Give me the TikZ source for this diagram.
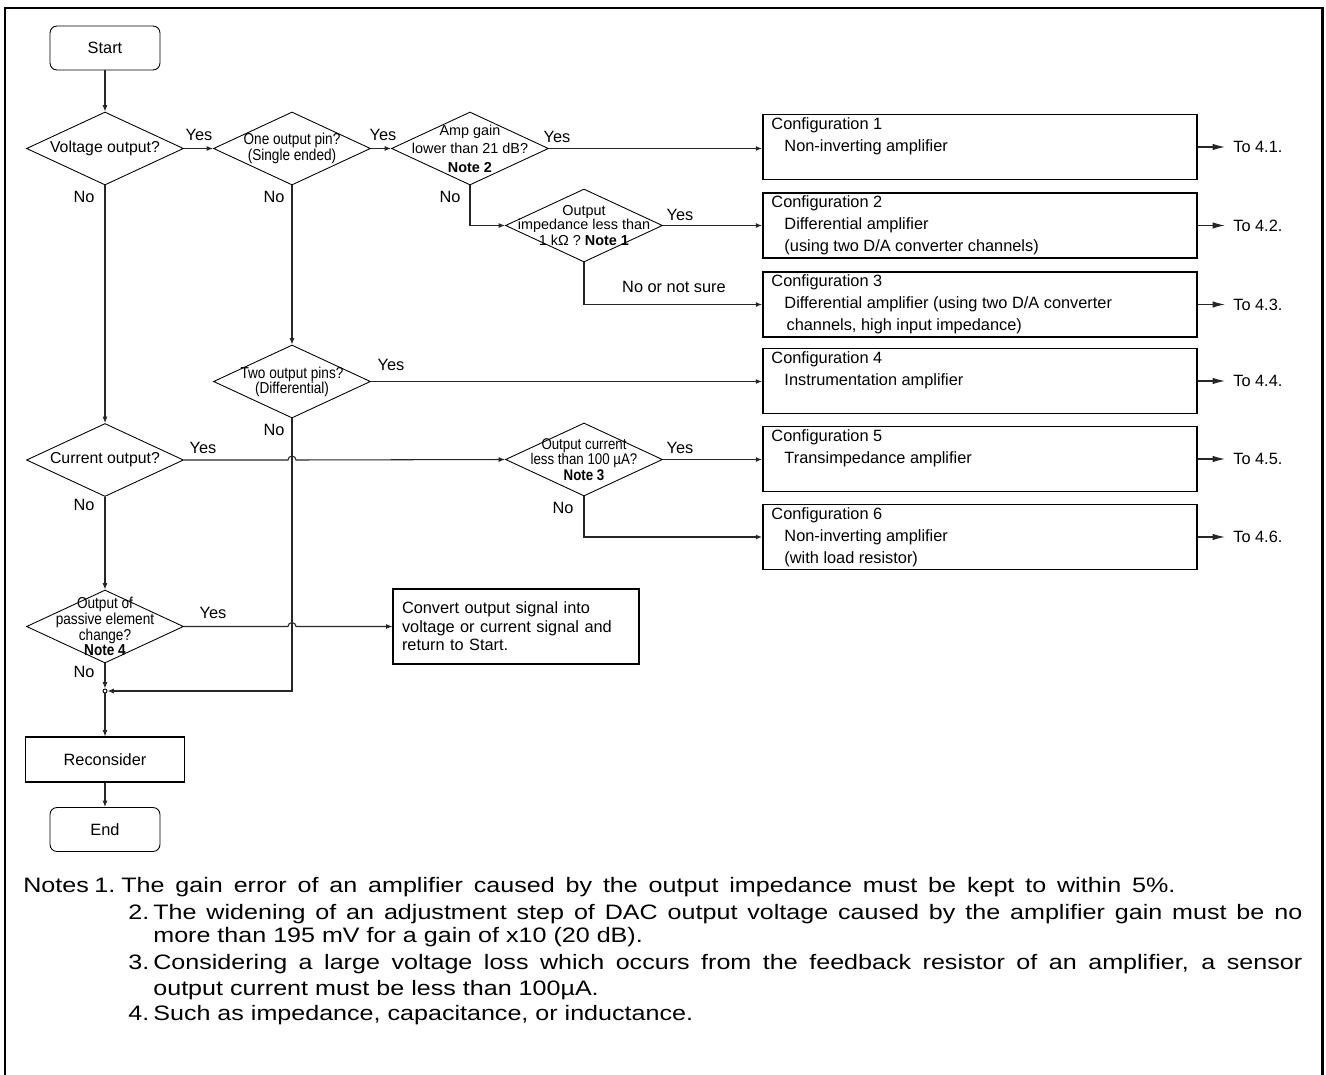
\documentclass[tikz,border=0pt]{standalone}
\usepackage{fontspec}
\setmainfont{Liberation Sans}
\newfontfamily\condfont[FakeStretch=0.86]{Liberation Sans}
\newfontfamily\notefont[FakeStretch=1.2]{Liberation Sans}
\usetikzlibrary{arrows.meta,shapes.geometric,calc}

\newcommand{\pxu}{0.02cm}

\tikzset{
	every node/.style={font=\fontsize{9.3}{11}\selectfont},
	line/.style={line width=0.6pt,draw=black!85},
	arr/.style={line,-{Latex[length=3.6pt,width=2.8pt]}},
	toarr/.style={line,-{Latex[length=7pt,width=3.6pt]}},
	term/.style={draw,rounded corners=4pt,line width=0.5pt,
		minimum width=110*\pxu,minimum height=44*\pxu},
	proc/.style={draw,line width=0.6pt,minimum width=159*\pxu,minimum height=45*\pxu},
	dia/.style={diamond,draw,line width=0.5pt,aspect=2,inner sep=0pt,
		minimum width=157*\pxu,minimum height=73*\pxu},
	dtxt/.style={align=center,inner sep=0pt,font=\condfont\fontsize{9}{9}\selectfont},
	cfg/.style={draw,line width=1pt,minimum width=434*\pxu,minimum height=65*\pxu},
	ctxt/.style={anchor=north west,align=left,inner xsep=9*\pxu,inner ysep=2pt,
		font=\fontsize{9.3}{12.5}\selectfont},
	tolbl/.style={anchor=west,inner xsep=8*\pxu,inner ysep=0pt},
	note/.style={anchor=base west,inner sep=0pt,font=\notefont\fontsize{11.9}{14.5}\selectfont}
}

\begin{document}
\begin{tikzpicture}[x=0.02cm,y=-0.02cm]

\useasboundingbox (0,0) rectangle (1326,1075);
\draw[line width=1.7pt] (5,1075) |- (1322,8) -- (1322,1075);

\node[term] (start) at (105,48) {Start};

\node[dia] (volt) at (105,148.5) {};
\node[dtxt,font=\fontsize{9}{9}\selectfont] (voltt) at (volt) {Voltage output?};

\node[dia] (pin1) at (292,148.5) {};
\node[dtxt] (pin1t) at (pin1) {One output pin?\\(Single ended)};

\node[dia] (gain) at (470,148.5) {};
\node[dtxt,font=\fontsize{8.2}{10.5}\selectfont] (gaint) at (gain)
	{Amp gain\\lower than 21 dB?\\\textbf{Note 2}};

\node[dia] (imp) at (584,225.5) {};
\node[dtxt,font=\fontsize{8.2}{8}\selectfont] (impt) at (imp)
	{Output\\impedance less than\\[1pt]1 kΩ ? \textbf{Note 1}};

\node[dia] (pins2) at (292,381.5) {};
\node[dtxt,font=\condfont\fontsize{9}{8.5}\selectfont] (pins2t) at (pins2)
	{Two output pins?\\(Differential)};

\node[dia] (curr) at (105,460) {};
\node[dtxt,font=\fontsize{9}{9}\selectfont] (currt) at (curr) {Current output?};

\node[dia] (ocur) at (584,459.5) {};
\node[dtxt,font=\condfont\fontsize{8.8}{8.8}\selectfont] (ocurt) at (ocur)
	{Output current\\less than 100 µA?\\\textbf{Note 3}};

\node[dia] (pasv) at (105,626.5) {};
\node[dtxt] (pasvt) at (pasv) {Output of\\passive element\\change?\\\textbf{Note 4}};

\node[draw,line width=0.6pt,text width=228*\pxu,inner xsep=9*\pxu,minimum height=75*\pxu,
	align=left,font=\fontsize{9.3}{10.5}\selectfont] (conv) at (516,626.5)
	{Convert output signal into\\voltage or current signal and\\return to Start.};

\node[circle,draw,line width=0.5pt,inner sep=0pt,minimum size=4*\pxu] (junc) at (105,691) {};
\node[proc] (recon) at (105,759.5) {Reconsider};
\node[term] (end) at (105,829.5) {End};

\foreach \i/\y in {1/147,2/225.5,3/304.5,4/381,5/459,6/537}{
	\node[cfg] (cfg\i) at (980,\y) {};
	\node[tolbl] (to\i) at (1225,\y) {To 4.\i.};
	\draw[toarr] (cfg\i.east) -- (to\i.west);
}

\node[ctxt] (cfg1t) at (cfg1.north west)
	{Configuration 1\\\hspace*{7.4pt}Non-inverting amplifier};
\node[ctxt] (cfg2t) at (cfg2.north west)
	{Configuration 2\\\hspace*{7.4pt}Differential amplifier\\\hspace*{7.4pt}(using two D/A converter channels)};
\node[ctxt] (cfg3t) at (cfg3.north west)
	{Configuration 3\\\hspace*{7.4pt}Differential amplifier (using two D/A converter\\\hspace*{8.6pt}channels, high input impedance)};
\node[ctxt] (cfg4t) at (cfg4.north west)
	{Configuration 4\\\hspace*{7.4pt}Instrumentation amplifier};
\node[ctxt] (cfg5t) at (cfg5.north west)
	{Configuration 5\\\hspace*{7.4pt}Transimpedance amplifier};
\node[ctxt] (cfg6t) at (cfg6.north west)
	{Configuration 6\\\hspace*{7.4pt}Non-inverting amplifier\\\hspace*{7.4pt}(with load resistor)};

\foreach \x/\y/\t [count=\i] in {199/135/Yes,383/135/Yes,557/137/Yes,680/215/Yes,
	391/365/Yes,203/448/Yes,680/448/Yes,213/613/Yes,
	84/197/No,274/197/No,450/197/No,274/430/No,84/505/No,563/508/No,84/672/No,
	674/287/No or not sure}{
	\node (yn\i) at (\x,\y) {\t};
}

\draw[arr] (start) -- (volt);
\draw[arr] (volt) -- (pin1);
\draw[arr] (pin1) -- (gain);
\draw[arr] (gain.east) -- (gain.east -| cfg1.west);
\draw[arr] (gain.south) |- (imp.west);
\draw[arr] (imp.east) -- (imp.east -| cfg2.west);
\draw[arr] (imp.south) |- (cfg3.west);
\draw[arr] (pin1) -- (pins2);
\draw[arr] (pins2.east) -- (pins2.east -| cfg4.west);
\draw[arr] (volt) -- (curr);
\draw[arr] (curr.east) -- ($(pins2.south |- curr.east)+(-4,0)$)
	arc[start angle=180,end angle=0,radius=4*\pxu] -- (ocur.west);
\draw[arr] (ocur.east) -- (ocur.east -| cfg5.west);
\draw[arr] (ocur.south) |- (cfg6.west);
\draw[arr] (curr) -- (pasv);
\draw[arr] (pasv.east) -- ($(pins2.south |- pasv.east)+(-4,0)$)
	arc[start angle=180,end angle=0,radius=4*\pxu] -- (conv.west);
\draw[arr] (pasv) -- (junc);
\draw[arr] (pins2.south) |- (junc.east);
\draw[arr] (junc) -- (recon);
\draw[arr] (recon) -- (end);

\node[note] (notes) at (23,892) {Notes};
\node[note] (n1) at (94,892) {1.};
\node[note] (n1a) at (121,892)
	{\makebox[600pt][s]{The gain error of an amplifier caused by the output impedance must be kept to within 5\%.}};
\node[note] (n2) at (128,919) {2.};
\node[note] (n2a) at (153,919)
	{\makebox[654pt][s]{The widening of an adjustment step of DAC output voltage caused by the amplifier gain must be no}};
\node[note] (n2b) at (153,942) {more than 195 mV for a gain of x10 (20 dB).};
\node[note] (n3) at (128,969) {3.};
\node[note] (n3a) at (153,969)
	{\makebox[654pt][s]{Considering a large voltage loss which occurs from the feedback resistor of an amplifier, a sensor}};
\node[note] (n3b) at (153,995) {output current must be less than 100µA.};
\node[note] (n4) at (128,1020) {4.};
\node[note] (n4a) at (153,1020) {Such as impedance, capacitance, or inductance.};

\end{tikzpicture}
\end{document}
